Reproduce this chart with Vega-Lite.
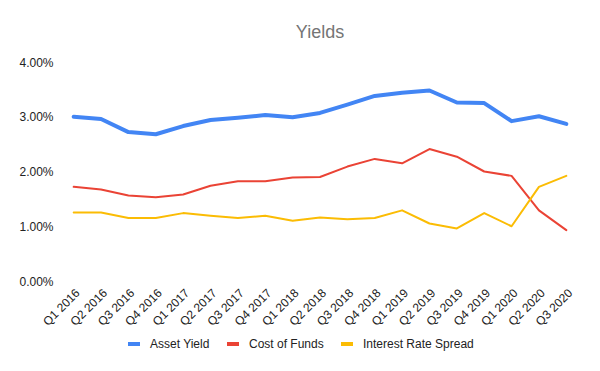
{
  "$schema": "https://vega.github.io/schema/vega-lite/v6.json",
  "width": 520,
  "height": 219,
  "autosize": {"type": "none"},
  "padding": {"left": 60, "top": 62, "right": 20, "bottom": 90},
  "background": "white",
  "config": {
    "view": {"stroke": null},
    "font": "Liberation Sans"
  },
  "title": {
    "text": "Yields",
    "fontSize": 18,
    "fontWeight": "normal",
    "color": "#757575",
    "anchor": "middle",
    "offset": 14,
    "font": "Liberation Sans"
  },
  "data": {
    "values": [
      {"quarter": "Q1 2016", "series": "Asset Yield", "value": 0.0300},
      {"quarter": "Q2 2016", "series": "Asset Yield", "value": 0.0296},
      {"quarter": "Q3 2016", "series": "Asset Yield", "value": 0.0272},
      {"quarter": "Q4 2016", "series": "Asset Yield", "value": 0.0268},
      {"quarter": "Q1 2017", "series": "Asset Yield", "value": 0.0283},
      {"quarter": "Q2 2017", "series": "Asset Yield", "value": 0.0294},
      {"quarter": "Q3 2017", "series": "Asset Yield", "value": 0.0298},
      {"quarter": "Q4 2017", "series": "Asset Yield", "value": 0.0303},
      {"quarter": "Q1 2018", "series": "Asset Yield", "value": 0.0299},
      {"quarter": "Q2 2018", "series": "Asset Yield", "value": 0.0307},
      {"quarter": "Q3 2018", "series": "Asset Yield", "value": 0.0322},
      {"quarter": "Q4 2018", "series": "Asset Yield", "value": 0.0338},
      {"quarter": "Q1 2019", "series": "Asset Yield", "value": 0.0344},
      {"quarter": "Q2 2019", "series": "Asset Yield", "value": 0.0348},
      {"quarter": "Q3 2019", "series": "Asset Yield", "value": 0.0326},
      {"quarter": "Q4 2019", "series": "Asset Yield", "value": 0.0325},
      {"quarter": "Q1 2020", "series": "Asset Yield", "value": 0.0292},
      {"quarter": "Q2 2020", "series": "Asset Yield", "value": 0.0301},
      {"quarter": "Q3 2020", "series": "Asset Yield", "value": 0.0287},
      {"quarter": "Q1 2016", "series": "Cost of Funds", "value": 0.0172},
      {"quarter": "Q2 2016", "series": "Cost of Funds", "value": 0.0167},
      {"quarter": "Q3 2016", "series": "Cost of Funds", "value": 0.0156},
      {"quarter": "Q4 2016", "series": "Cost of Funds", "value": 0.0153},
      {"quarter": "Q1 2017", "series": "Cost of Funds", "value": 0.0158},
      {"quarter": "Q2 2017", "series": "Cost of Funds", "value": 0.0174},
      {"quarter": "Q3 2017", "series": "Cost of Funds", "value": 0.0182},
      {"quarter": "Q4 2017", "series": "Cost of Funds", "value": 0.0182},
      {"quarter": "Q1 2018", "series": "Cost of Funds", "value": 0.0189},
      {"quarter": "Q2 2018", "series": "Cost of Funds", "value": 0.0190},
      {"quarter": "Q3 2018", "series": "Cost of Funds", "value": 0.0209},
      {"quarter": "Q4 2018", "series": "Cost of Funds", "value": 0.0223},
      {"quarter": "Q1 2019", "series": "Cost of Funds", "value": 0.0215},
      {"quarter": "Q2 2019", "series": "Cost of Funds", "value": 0.0241},
      {"quarter": "Q3 2019", "series": "Cost of Funds", "value": 0.0227},
      {"quarter": "Q4 2019", "series": "Cost of Funds", "value": 0.0200},
      {"quarter": "Q1 2020", "series": "Cost of Funds", "value": 0.0192},
      {"quarter": "Q2 2020", "series": "Cost of Funds", "value": 0.0129},
      {"quarter": "Q3 2020", "series": "Cost of Funds", "value": 0.0093},
      {"quarter": "Q1 2016", "series": "Interest Rate Spread", "value": 0.0125},
      {"quarter": "Q2 2016", "series": "Interest Rate Spread", "value": 0.0125},
      {"quarter": "Q3 2016", "series": "Interest Rate Spread", "value": 0.0115},
      {"quarter": "Q4 2016", "series": "Interest Rate Spread", "value": 0.0115},
      {"quarter": "Q1 2017", "series": "Interest Rate Spread", "value": 0.0124},
      {"quarter": "Q2 2017", "series": "Interest Rate Spread", "value": 0.0119},
      {"quarter": "Q3 2017", "series": "Interest Rate Spread", "value": 0.0115},
      {"quarter": "Q4 2017", "series": "Interest Rate Spread", "value": 0.0119},
      {"quarter": "Q1 2018", "series": "Interest Rate Spread", "value": 0.0110},
      {"quarter": "Q2 2018", "series": "Interest Rate Spread", "value": 0.0116},
      {"quarter": "Q3 2018", "series": "Interest Rate Spread", "value": 0.0113},
      {"quarter": "Q4 2018", "series": "Interest Rate Spread", "value": 0.0115},
      {"quarter": "Q1 2019", "series": "Interest Rate Spread", "value": 0.0129},
      {"quarter": "Q2 2019", "series": "Interest Rate Spread", "value": 0.0105},
      {"quarter": "Q3 2019", "series": "Interest Rate Spread", "value": 0.0096},
      {"quarter": "Q4 2019", "series": "Interest Rate Spread", "value": 0.0124},
      {"quarter": "Q1 2020", "series": "Interest Rate Spread", "value": 0.0100},
      {"quarter": "Q2 2020", "series": "Interest Rate Spread", "value": 0.0172},
      {"quarter": "Q3 2020", "series": "Interest Rate Spread", "value": 0.0192}
    ]
  },
  "mark": {"type": "line", "strokeCap": "round", "strokeJoin": "round"},
  "encoding": {
    "x": {
      "field": "quarter",
      "type": "ordinal",
      "sort": null,
      "scale": {"type": "point", "padding": 0.5},
      "axis": {
        "title": null,
        "labelAngle": -45,
        "labelFontSize": 12,
        "labelColor": "#222222",
        "domain": false,
        "ticks": false,
        "grid": false,
        "labelPadding": 6
      }
    },
    "y": {
      "field": "value",
      "type": "quantitative",
      "scale": {"domain": [0, 0.04], "nice": false, "zero": true},
      "axis": {
        "title": null,
        "values": [0, 0.01, 0.02, 0.03, 0.04],
        "format": ".2%",
        "labelFontSize": 12,
        "labelColor": "#222222",
        "domain": false,
        "ticks": false,
        "grid": false,
        "labelPadding": 7
      }
    },
    "color": {
      "field": "series",
      "type": "nominal",
      "scale": {
        "domain": ["Asset Yield", "Cost of Funds", "Interest Rate Spread"],
        "range": ["#4285F4", "#EA4335", "#FBBC04"]
      },
      "legend": {
        "title": null,
        "orient": "none",
        "legendX": 66,
        "legendY": 274,
        "direction": "horizontal",
        "symbolType": "stroke",
        "symbolStrokeWidth": 4,
        "symbolSize": 144,
        "labelFontSize": 12,
        "labelColor": "#222222",
        "labelOffset": 8,
        "columnPadding": 9
      }
    },
    "strokeWidth": {
      "condition": {"test": "datum.series === 'Asset Yield'", "value": 4},
      "value": 2
    }
  }
}
